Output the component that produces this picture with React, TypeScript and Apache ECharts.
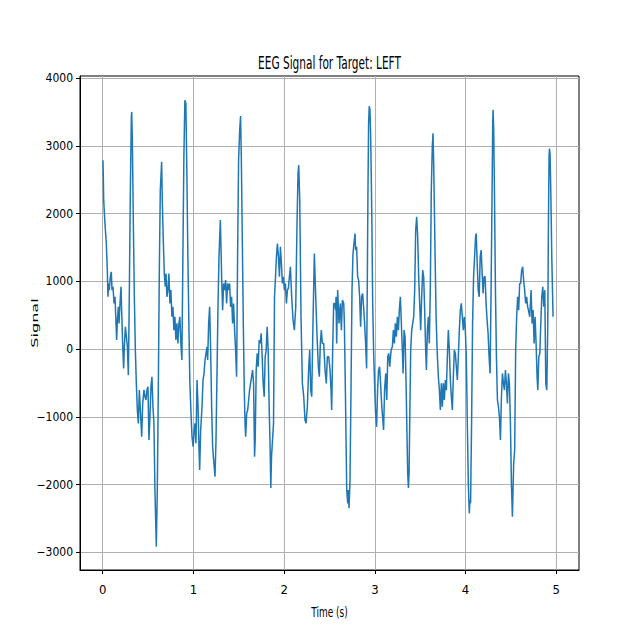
import React, { useEffect, useRef } from "react";
import * as echarts from "echarts";

const times = [
  0.003, 0.007, 0.011, 0.025, 0.04, 0.051, 0.058, 0.066, 0.073, 0.084, 0.095, 0.103, 0.114, 0.125, 0.136, 0.147, 0.154, 0.162, 0.173, 0.18,
  0.191, 0.202, 0.209, 0.22, 0.231, 0.239, 0.25, 0.26, 0.272, 0.283, 0.294, 0.305, 0.316, 0.32, 0.327, 0.338, 0.349, 0.36, 0.371, 0.382,
  0.393, 0.404, 0.415, 0.43, 0.441, 0.455, 0.466, 0.477, 0.488, 0.499, 0.51, 0.521, 0.532, 0.543, 0.554, 0.565, 0.576, 0.591, 0.602, 0.613,
  0.624, 0.635, 0.65, 0.657, 0.668, 0.679, 0.69, 0.698, 0.708, 0.719, 0.73, 0.741, 0.752, 0.763, 0.774, 0.785, 0.796, 0.807, 0.818, 0.829,
  0.84, 0.851, 0.862, 0.873, 0.884, 0.895, 0.906, 0.917, 0.928, 0.939, 0.95, 0.961, 0.972, 0.985, 0.997, 1.008, 1.018, 1.028, 1.04, 1.051,
  1.062, 1.069, 1.08, 1.095, 1.106, 1.117, 1.128, 1.139, 1.15, 1.157, 1.168, 1.179, 1.19, 1.201, 1.212, 1.223, 1.238, 1.249, 1.26, 1.271,
  1.282, 1.297, 1.304, 1.311, 1.322, 1.333, 1.344, 1.355, 1.366, 1.377, 1.388, 1.399, 1.41, 1.421, 1.432, 1.443, 1.454, 1.465, 1.476, 1.487,
  1.498, 1.51, 1.52, 1.528, 1.539, 1.55, 1.561, 1.569, 1.576, 1.587, 1.598, 1.609, 1.619, 1.63, 1.641, 1.652, 1.663, 1.674, 1.681, 1.692,
  1.703, 1.714, 1.725, 1.736, 1.747, 1.758, 1.769, 1.78, 1.791, 1.802, 1.813, 1.824, 1.835, 1.846, 1.853, 1.861, 1.872, 1.883, 1.894, 1.905,
  1.915, 1.926, 1.937, 1.948, 1.959, 1.97, 1.981, 1.992, 2.003, 2.014, 2.025, 2.036, 2.047, 2.058, 2.069, 2.083, 2.098, 2.113, 2.128, 2.142,
  2.153, 2.161, 2.172, 2.186, 2.201, 2.216, 2.23, 2.241, 2.256, 2.271, 2.282, 2.293, 2.304, 2.318, 2.333, 2.348, 2.363, 2.377, 2.388, 2.399,
  2.41, 2.421, 2.436, 2.451, 2.465, 2.476, 2.491, 2.506, 2.517, 2.524, 2.535, 2.546, 2.557, 2.568, 2.572, 2.579, 2.59, 2.605, 2.62, 2.631,
  2.642, 2.657, 2.664, 2.675, 2.69, 2.701, 2.708, 2.715, 2.726, 2.737, 2.748, 2.759, 2.77, 2.781, 2.788, 2.799, 2.81, 2.821, 2.832, 2.843,
  2.854, 2.865, 2.876, 2.887, 2.898, 2.909, 2.916, 2.924, 2.931, 2.938, 2.946, 2.953, 2.96, 2.968, 2.975, 2.986, 2.997, 3.008, 3.019, 3.03,
  3.041, 3.052, 3.063, 3.074, 3.085, 3.096, 3.107, 3.12, 3.131, 3.142, 3.153, 3.164, 3.179, 3.193, 3.204, 3.215, 3.226, 3.237, 3.248, 3.259,
  3.27, 3.281, 3.292, 3.303, 3.311, 3.322, 3.333, 3.344, 3.355, 3.362, 3.37, 3.377, 3.384, 3.395, 3.406, 3.417, 3.428, 3.439, 3.45, 3.461,
  3.472, 3.483, 3.494, 3.505, 3.516, 3.527, 3.538, 3.549, 3.56, 3.568, 3.579, 3.59, 3.6, 3.611, 3.622, 3.633, 3.641, 3.649, 3.664, 3.675,
  3.686, 3.7, 3.711, 3.722, 3.733, 3.744, 3.755, 3.766, 3.777, 3.788, 3.799, 3.81, 3.821, 3.832, 3.843, 3.854, 3.865, 3.876, 3.887, 3.898,
  3.909, 3.92, 3.931, 3.942, 3.953, 3.964, 3.975, 3.986, 3.997, 4.008, 4.019, 4.03, 4.041, 4.048, 4.055, 4.066, 4.077, 4.088, 4.099, 4.11,
  4.117, 4.128, 4.139, 4.15, 4.161, 4.172, 4.183, 4.193, 4.204, 4.215, 4.226, 4.237, 4.248, 4.259, 4.27, 4.281, 4.292, 4.299, 4.303, 4.31,
  4.318, 4.329, 4.34, 4.351, 4.362, 4.373, 4.384, 4.395, 4.406, 4.417, 4.428, 4.439, 4.45, 4.461, 4.472, 4.483, 4.494, 4.505, 4.516, 4.523,
  4.53, 4.541, 4.552, 4.563, 4.574, 4.585, 4.596, 4.607, 4.618, 4.629, 4.64, 4.651, 4.662, 4.673, 4.684, 4.692, 4.707, 4.722, 4.733, 4.744,
  4.755, 4.766, 4.777, 4.788, 4.796, 4.807, 4.818, 4.829, 4.84, 4.851, 4.862, 4.873, 4.884, 4.895, 4.906, 4.913, 4.92, 4.924, 4.931, 4.939,
  4.95, 4.964,
];

const signal = [
  2788, 2541, 2198, 1854, 1559, 1165, 772, 969, 870, 1067, 1140, 870, 919, 674, 772, 379, 133, 428, 624, 379,
  674, 919, 575, 84, -285, 34, 329, 207, 34, -384, 870, 2345, 3427, 3500, 3083, 1854, 772, -15, -506, -900,
  -1096, -605, -900, -1293, -801, -600, -703, -752, -605, -556, -1342, -998, -556, -408, -851, -1096, -2080, -2916, -2080, -605,
  1116, 2345, 2763, 2198, 1608, 1116, 919, 1116, 772, 870, 1116, 674, 870, 477, 624, 280, 477, 133, 379, 84,
  379, 477, 84, -162, 1362, 2837, 3673, 3624, 2591, 1362, 379, -506, -900, -1300, -1441, -1195, -1096, -1391, -457, -851,
  -1490, -1785, -1195, -851, -457, -359, -162, -64, 34, -162, 379, 624, -15, -851, -1441, -1637, -1883, -1342, -359, 624,
  1362, 1903, 1509, 1067, 575, 969, 870, 1018, 674, 969, 870, 969, 624, 772, 379, 674, 280, -15, -408, 1362,
  2788, 3230, 3440, 2837, 1608, 379, -605, -1096, -1293, -949, -900, -752, -605, -506, -408, -310, -506, -1588, -1342, -310,
  -64, -261, 133, 84, 231, -113, -506, -703, -113, -15, 329, -15, -851, -1490, -2050, -1588, -1342, -1096, 772, 1067,
  1362, 1559, 1362, 1067, 1509, 1264, 969, 1067, 870, 969, 674, 870, 900, 1067, 1214, 772, 428, 280, 624, 1854,
  2591, 2714, 2198, 477, -506, -703, -1047, -1096, -851, -261, -15, -605, -703, 379, 1411, 772, 182, -261, -408, 84,
  280, 84, 84, -310, -506, -113, -113, -310, -605, -900, -15, 674, 674, 575, 772, 84, 870, 379, 674, 280,
  723, 674, 379, -605, -2080, -2276, -2080, -2350, -1932, -605, 870, 1411, 1559, 1706, 1460, 1509, 1067, 1018, 772, 329,
  772, 821, 624, 379, 84, -285, 870, 2345, 3329, 3584, 3530, 3186, 2591, 1755, 772, -15, -506, -949, -1145, -605,
  -310, -261, -506, -801, -998, -1195, -605, -359, -752, -113, -64, -261, -15, 34, 280, 84, 379, 182, 477, 280,
  575, 772, 379, -15, -359, 280, 182, -506, -1342, -1834, -2050, -1834, -1096, -15, 280, 379, 477, 870, 1755, 1952,
  1657, 1067, 674, 280, 772, 1165, 1067, 575, -15, -310, 280, 477, 84, 870, 2345, 2984, 3186, 2700, 1362, 477,
  -15, -408, -605, -900, -506, -851, -506, -752, -457, -605, -113, 280, -15, -457, -703, -900, -408, -15, -64, -261,
  -457, -113, 280, 575, 674, 477, 280, 477, 280, -113, -1096, -1981, -2424, -2228, -2276, -1096, 379, 1067, 1362, 1657,
  1706, 1264, 870, 772, 1362, 1460, 1100, 821, 1067, 1067, 674, 428, 231, -113, -359, 870, 2345, 3329, 3530, 3230,
  2345, 870, -113, -752, -851, -998, -1342, -703, -359, -506, -605, -310, -506, -801, -359, -506, -1096, -1981, -2473, -2080,
  -1686, -1490, -15, 477, 772, 575, 969, 969, 1165, 1214, 1018, 870, 674, 772, 624, 580, 477, 870, 379, 575,
  84, 477, 84, -408, -605, -113, -64, 379, 772, 919, 624, 870, -506, -605, 379, 1854, 2837, 2960, 2886, 2345,
  1362, 477,
];

const xTicks = [0, 1, 2, 3, 4, 5];
const yTicks = [-3000, -2000, -1000, 0, 1000, 2000, 3000, 4000];
const titleText = "EEG Signal for Target: LEFT";
const xName = "Time (s)";
const yName = "Signal";

export default function App() {
  const ref = useRef<HTMLDivElement>(null);
  useEffect(() => {
    document.body.style.margin = "0";
    const chart = echarts.init(ref.current!, null, { renderer: "svg" });
    const narrow = "'DejaVu Sans Condensed', 'DejaVu Sans', sans-serif";
    const base = "'DejaVu Sans', sans-serif";
    const fmt = (v: number) => String(v).replace("-", "\u2212");
    chart.setOption({
      animation: false,
      backgroundColor: "#ffffff",
      grid: {
        left: 80,
        right: 61,
        top: 76,
        bottom: 70,
        show: true,
        borderColor: "#000",
        borderWidth: 1,
        backgroundColor: "transparent",
      },
      xAxis: {
        type: "value",
        min: -0.25,
        max: 5.25,
        axisLine: { show: true, onZero: false, lineStyle: { color: "#000", width: 1 } },
        axisTick: { show: true, length: 4, customValues: xTicks, lineStyle: { color: "#000" } },
        axisLabel: { customValues: xTicks, formatter: fmt, fontFamily: narrow, fontSize: 13, color: "#000", margin: 13 },
        splitLine: { show: true, lineStyle: { color: "#b0b0b0", width: 1 } },
      },
      yAxis: {
        type: "value",
        min: -3260,
        max: 4030,
        axisLine: { show: true, onZero: false, lineStyle: { color: "#000", width: 1 } },
        axisTick: { show: true, length: 4, customValues: yTicks, lineStyle: { color: "#000" } },
        axisLabel: { customValues: yTicks, formatter: fmt, fontFamily: narrow, fontSize: 12, color: "#000", margin: 7 },
        splitLine: { show: true, lineStyle: { color: "#b0b0b0", width: 1 } },
      },
      graphic: [
        {
          type: "text",
          x: 329.5,
          y: 63,
          scaleX: 0.64,
          scaleY: 1.05,
          style: {
            text: titleText,
            fontFamily: base,
            fontSize: 16.5,
            fill: "#000",
            textAlign: "center",
            textVerticalAlign: "middle",
          },
        },
        {
          type: "text",
          x: 329.5,
          y: 612,
          scaleX: 0.64,
          scaleY: 1.05,
          style: {
            text: xName,
            fontFamily: base,
            fontSize: 14,
            fill: "#000",
            textAlign: "center",
            textVerticalAlign: "middle",
          },
        },
        {
          type: "text",
          x: 35,
          y: 323,
          rotation: Math.PI / 2,
          scaleX: 1.07,
          scaleY: 0.64,
          style: {
            text: yName,
            fontFamily: base,
            fontSize: 15,
            fill: "#000",
            textAlign: "center",
            textVerticalAlign: "middle",
          },
        },
      ],
      series: [
        {
          type: "line",
          data: times.map((t, i) => [t, signal[i]]),
          showSymbol: false,
          symbol: "none",
          lineStyle: { color: "#1f77b4", width: 1.5 },
          itemStyle: { color: "#1f77b4" },
        },
      ],
    });
    return () => chart.dispose();
  }, []);
  return <div ref={ref} style={{ width: 640, height: 640, position: "fixed", left: 0, top: 0 }} />;
}
